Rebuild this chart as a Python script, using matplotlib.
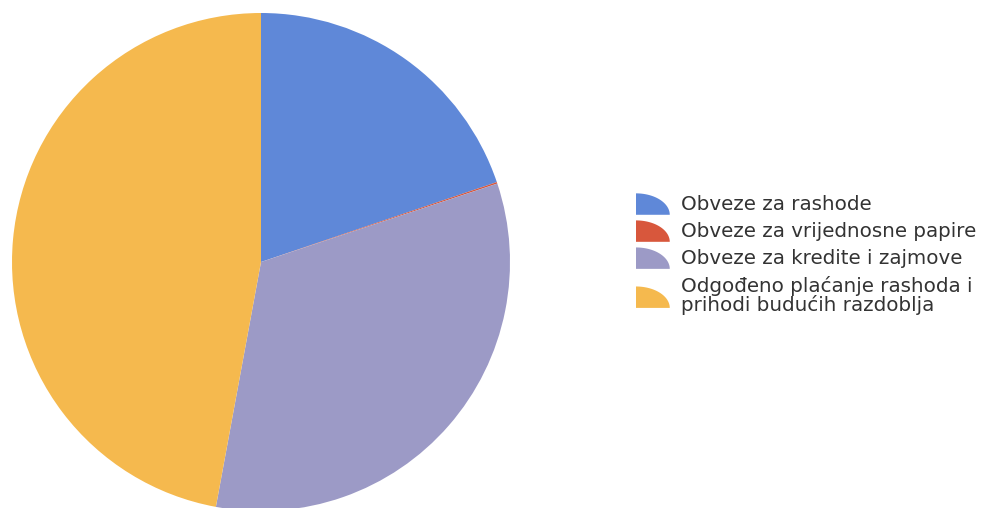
import numpy as np
import matplotlib
matplotlib.use("Agg")
import matplotlib.pyplot as plt
from matplotlib.patches import Polygon
from matplotlib.legend_handler import HandlerPatch
from matplotlib.patches import Patch

categories = ["Obveze za rashode",
              "Obveze za vrijednosne papire",
              "Obveze za kredite i zajmove",
              "Odgođeno plaćanje rashoda i\nprihodi budućih razdoblja"]
values = [19.8, 0.1, 33.0, 47.1]
colors = ["#5f88d8", "#d8573c", "#9c9ac6", "#f5b94e"]

W, H = 993, 508
fig = plt.figure(figsize=(W / 100, H / 100), dpi=100)
fig.patch.set_facecolor("white")

cx, cy, r = 261, 262, 249
ax = fig.add_axes([(cx - r) / W, (H - cy - r) / H, 2 * r / W, 2 * r / H])
ax.pie(values, colors=colors, startangle=90, counterclock=False, radius=1,
       wedgeprops=dict(linewidth=0))
ax.set_xlim(-1, 1)
ax.set_ylim(-1, 1)
ax.set_aspect("equal")
ax.axis("off")


class QuarterHandler(HandlerPatch):
    def create_artists(self, legend, orig_handle, xdescent, ydescent,
                       width, height, fontsize, trans):
        t = np.linspace(0, np.pi / 2, 30)
        w = width
        h = height * 1.3
        x0 = -xdescent
        y0 = -ydescent - 0.2 * height
        pts = [(x0, y0)] + [(x0 + w * np.cos(a), y0 + h * np.sin(a)) for a in t]
        p = Polygon(pts, closed=True, facecolor=orig_handle.get_facecolor(),
                    edgecolor="none", transform=trans)
        return [p]


handles = [Patch(facecolor=c) for c in colors]
leg = fig.legend(handles, categories, loc="upper left",
                 bbox_to_anchor=(636 / W, 1 - 195 / H),
                 borderpad=0, borderaxespad=0,
                 frameon=False, fontsize=14.3, handlelength=1.7,
                 handleheight=0.9, handletextpad=0.55, labelspacing=0.4,
                 handler_map={Patch: QuarterHandler()})
for t in leg.get_texts():
    t.set_color("#333333")
    t.set_linespacing(0.95)

fig.savefig("out.png", dpi=100, facecolor="white")
